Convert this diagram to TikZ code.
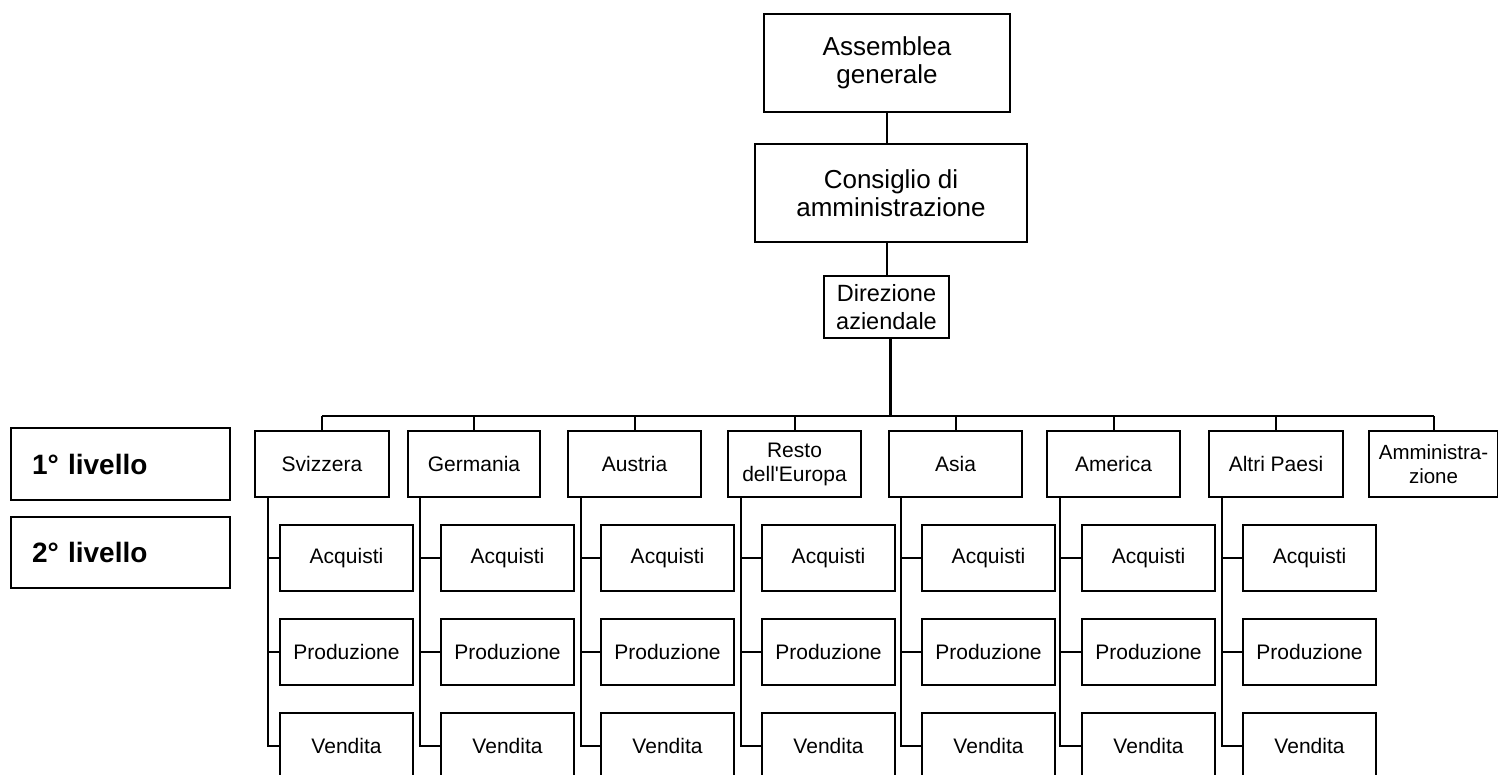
\documentclass[tikz,border=0pt]{standalone}
\usepackage{fontspec}
\setmainfont{Liberation Sans}
\begin{document}
\begin{tikzpicture}[x=1pt,y=-1pt,
  box/.style={draw, line width=2pt, align=center, inner sep=0pt, anchor=north west,
              font=\fontsize{21}{24}\selectfont},
  bigbox/.style={box, font=\fontsize{26}{28}\selectfont},
  legbox/.style={draw, line width=2pt, anchor=north west, inner ysep=0pt, inner xsep=21pt,
              text width=177pt, align=left, font=\fontsize{28}{30}\bfseries\selectfont},
  conn/.style={line width=2pt},
  mainconn/.style={line width=3pt}]
\useasboundingbox (0,0) rectangle (1498,774);
\clip (0,0) rectangle (1498,774);
\fill[white] (0,0) rectangle (1498,774);

% top hierarchy
\node[bigbox, minimum width=246pt, minimum height=98pt] (ass) at (763,13) {Assemblea\\generale};
\node[bigbox, minimum width=272pt, minimum height=98pt] (cons) at (754,143) {Consiglio di\\amministrazione};
\node[box, font=\fontsize{23.5}{28}\selectfont, minimum width=125pt, minimum height=62pt] (dir) at (823,275) {Direzione\\aziendale};

\draw[conn] (ass.south) -- (ass.south |- cons.north);
\draw[conn] (dir.north) -- (dir.north |- cons.south);

% legend
\node[legbox, minimum height=72pt] (leg1) at (10,427) {1° livello};
\node[legbox, minimum height=71pt] (leg2) at (10,516) {2° livello};

\coordinate (bus) at (0,416);

% first level and second level
\foreach \n/\bl/\bw/\tx/\cl/\t in {
  svi/254/134/268/279/Svizzera,
  ger/407/132/420/440/Germania,
  aus/567/133/581/600/Austria,
  res/727/133/741/761/{Resto\\dell\textquotesingle Europa},
  asi/888/133/901/921/Asia,
  ame/1046/133/1060/1081/America,
  alt/1208/134/1222/1242/Altri Paesi}{
  \node[box, minimum width=\bw pt, minimum height=66pt] (\n) at (\bl,430) {\t};
  \node[box, minimum width=133pt, minimum height=66pt] (\n-a) at (\cl,524) {Acquisti};
  \node[box, minimum width=133pt, minimum height=66pt] (\n-p) at (\cl,618) {Produzione};
  \node[box, minimum width=133pt, minimum height=66pt] (\n-v) at (\cl,712) {Vendita};
  \coordinate (\n-t) at (\tx,496);
  \draw[conn] (\n.north) -- (\n.north |- bus);
  \draw[conn] (\n-t) |- (\n-v.west);
  \draw[conn] (\n-a.west) -- (\n-a.west -| \n-t);
  \draw[conn] (\n-p.west) -- (\n-p.west -| \n-t);
}
\node[box, font=\fontsize{20.5}{24}\selectfont, minimum width=129pt, minimum height=66pt] (amm) at (1368,430) {Amministra-\\zione};
\draw[conn] (amm.north) -- (amm.north |- bus);

% bus
\draw[conn] (svi.north |- bus) -- (amm.north |- bus);
\draw[mainconn] ([xshift=4pt]dir.south) -- ([xshift=4pt]dir.south |- bus);
\end{tikzpicture}
\end{document}
